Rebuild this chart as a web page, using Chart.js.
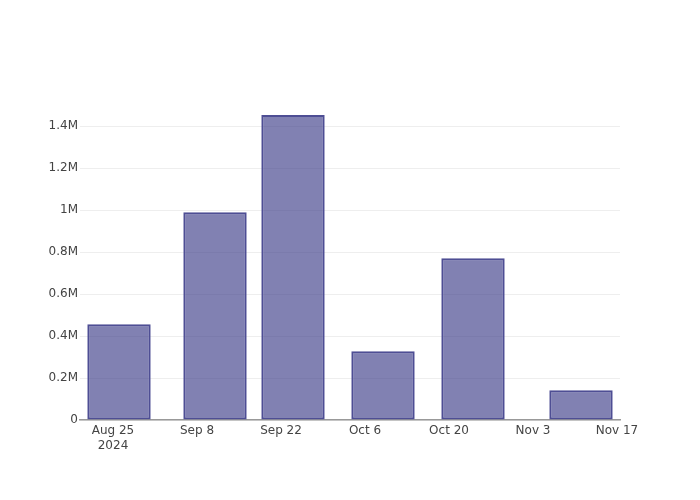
<!DOCTYPE html>
<html>
<head>
<meta charset="utf-8">
<script src="https://cdn.jsdelivr.net/npm/chart.js@4/dist/chart.umd.min.js"></script>
<style>
html,body{margin:0;padding:0;background:#fff;}
#wrap{width:700px;height:500px;position:relative;}
</style>
</head>
<body>
<div id="wrap"><canvas id="c"></canvas></div>
<script>
// Data
const barDates = ['2024-08-26','2024-09-11','2024-09-24','2024-10-09','2024-10-24','2024-11-11'];
const barValues = [456000, 989000, 1452000, 328000, 770000, 142000];
const xTickDates = ['2024-08-25','2024-09-08','2024-09-22','2024-10-06','2024-10-20','2024-11-03','2024-11-17'];
const xTickLabels = [['Aug 25','2024'],'Sep 8','Sep 22','Oct 6','Oct 20','Nov 3','Nov 17'];
const yTicks = [0, 200000, 400000, 600000, 800000, 1000000, 1200000, 1400000];
const yTickLabels = ['0','0.2M','0.4M','0.6M','0.8M','1M','1.2M','1.4M'];

const DAY = 86400000;
const origin = Date.parse(xTickDates[0] + 'T00:00:00Z');
const toDay = d => (Date.parse(d + 'T00:00:00Z') - origin) / DAY;
const xTickPos = xTickDates.map(toDay);
const points = barDates.map((d, i) => ({x: toDay(d), y: barValues[i]}));

const font = {family: '"DejaVu Sans", "Open Sans", sans-serif', size: 12};

new Chart(document.getElementById('c'), {
  type: 'bar',
  data: {
    datasets: [{
      data: points,
      backgroundColor: 'rgba(58,58,135,0.64)',
      borderColor: 'rgb(78,78,148)',
      borderWidth: 2,
      borderSkipped: false,
      categoryPercentage: 0.8,
      barPercentage: 1.016
    }]
  },
  options: {
    responsive: true,
    maintainAspectRatio: false,
    animation: false,
    layout: {padding: {top: 100, right: 80, left: 0, bottom: 0}},
    plugins: {legend: {display: false}, tooltip: {enabled: false}},
    scales: {
      x: {
        type: 'linear',
        min: -5.5,
        max: 84.5,
        offset: false,
        grid: {display: false, drawTicks: false},
        border: {display: true, color: '#999', width: 1.5},
        afterBuildTicks: s => { s.ticks = xTickPos.map(v => ({value: v})); },
        afterFit: s => { s.height = 80; },
        ticks: {
          font: Object.assign({lineHeight: 1.25}, font),
          color: '#444',
          padding: 3,
          maxRotation: 0,
          autoSkip: false,
          callback: (v) => { const i = xTickPos.indexOf(v); return i >= 0 ? xTickLabels[i] : ''; }
        }
      },
      y: {
        min: 0,
        max: 1524000,
        grid: {color: '#eeeeee', drawTicks: false},
        border: {display: false},
        afterBuildTicks: s => { s.ticks = yTicks.map(v => ({value: v})); },
        afterFit: s => { s.width = 80; },
        ticks: {
          font: font,
          color: '#444',
          padding: 2,
          callback: (v) => { const i = yTicks.indexOf(v); return i >= 0 ? yTickLabels[i] : ''; }
        }
      }
    }
  }
});
</script>
</body>
</html>
